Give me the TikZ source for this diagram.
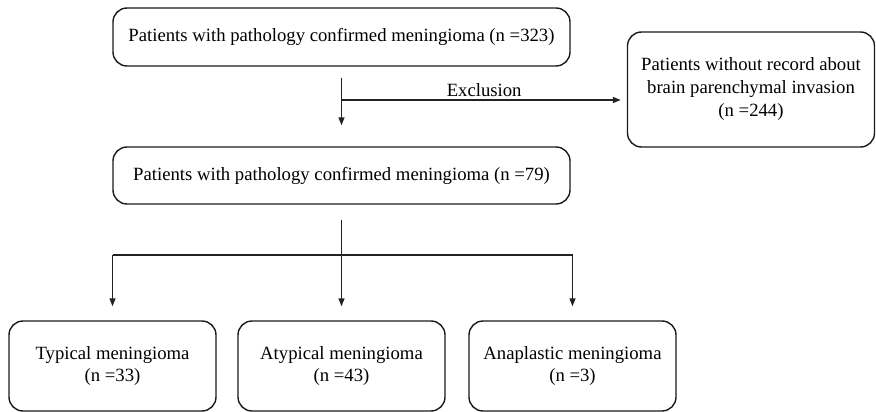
\documentclass[tikz,border=0pt]{standalone}
\usepackage{fontspec}
\setmainfont{Liberation Serif}
\usetikzlibrary{arrows.meta,positioning,calc}
\definecolor{boxblack}{HTML}{1A1A1A}
\definecolor{linegray}{HTML}{222222}

\begin{document}
\begin{tikzpicture}[
  x=1pt, y=-1pt,
  >={Triangle[length=8pt, width=6pt]},
  line width=1.4pt,
  flowbox/.style={draw=boxblack, rounded corners=14pt, align=center, inner sep=0pt,
    font=\fontsize{18.7}{23}\selectfont},
  flowline/.style={->, draw=linegray, line width=1.4pt},
  barline/.style={draw=linegray, line width=1.4pt},
  exlabel/.style={font=\fontsize{18.7}{23}\selectfont, inner sep=3pt}
]
  \useasboundingbox (0,0) rectangle (876,412);

  \node[flowbox, minimum width=457pt, minimum height=58pt] (allpts) at (341.5,37) {Patients with pathology confirmed meningioma (n =323)};
  \node[flowbox, minimum width=457pt, minimum height=57pt] (kept) at (341.5,175.5) {Patients with pathology confirmed meningioma (n =79)};
  \node[flowbox, minimum width=247pt, minimum height=115pt] (norec) at (751,89.5) {Patients without record about\\brain parenchymal invasion\\(n =244)};

  \node[flowbox, minimum width=207pt, minimum height=90pt] (typ) at (112.5,366) {Typical meningioma\\(n =33)};
  \node[flowbox, minimum width=207pt, minimum height=90pt] (atyp) at (341.5,366) {Atypical meningioma\\(n =43)};
  \node[flowbox, minimum width=207pt, minimum height=90pt] (anap) at (572.5,366) {Anaplastic meningioma\\(n =3)};

  \coordinate (split) at (341.5,100);
  \coordinate (fork) at (341.5,255);

  \draw[flowline, shorten <=11pt, shorten >=21pt] (allpts) -- (kept);
  \draw[flowline, shorten >=6pt] (split) -- node[exlabel, above] {Exclusion} (split -| norec.west);

  \draw[barline, shorten <=15pt] (kept.south) -- (fork);
  \draw[barline] (fork -| typ) -- (fork -| anap);
  \foreach \leaf in {typ, atyp, anap}
    \draw[flowline, shorten >=14pt] (fork -| \leaf) -- (\leaf.north);
\end{tikzpicture}
\end{document}
